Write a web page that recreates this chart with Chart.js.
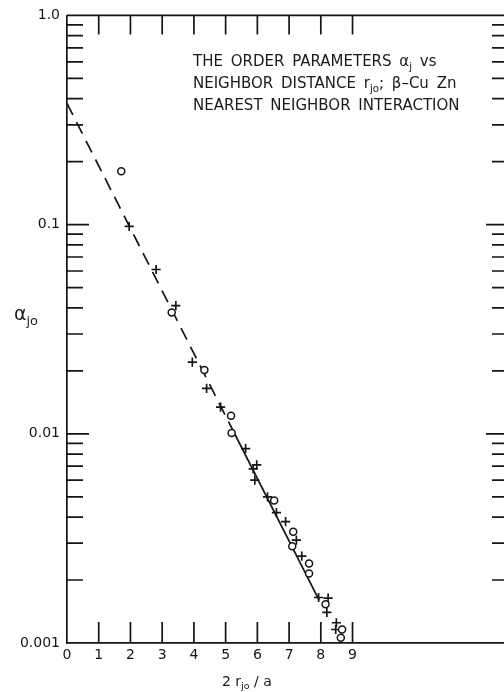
<!DOCTYPE html>
<html>
<head>
<meta charset="utf-8">
<script src="https://cdn.jsdelivr.net/npm/chart.js@4.4.0/dist/chart.umd.min.js"></script>
<style>
  html, body { margin: 0; padding: 0; background: #fff; overflow: hidden; }
  #wrap { position: relative; width: 504px; height: 692px; overflow: hidden; background: #fff; }
  #plot { position: absolute; left: 0; top: 0; }
  .lbl { position: absolute; font-family: 'DejaVu Sans', sans-serif; color: #1a1a1a; white-space: nowrap; }
  .lbl sub { font-size: 68%; vertical-align: baseline; position: relative; top: 0.35em; }
</style>
</head>
<body>
<div id="wrap">
  <canvas id="plot" width="540" height="692"></canvas>
  <div class="lbl" style="left:193px; top:51px; font-size:15px; line-height:20px; word-spacing:3px;">
    THE ORDER PARAMETERS α<sub>j</sub> vs<br>
    NEIGHBOR DISTANCE r<sub>jo</sub>; β–Cu Zn<br>
    NEAREST NEIGHBOR INTERACTION
  </div>
  <div class="lbl" style="left:14px; top:302px; font-size:19px;">α<sub>jo</sub></div>
  <div class="lbl" style="left:222px; top:673px; font-size:14px;">2 r<sub>jo</sub> / a</div>
</div>
<script>
// tick labels
var xTickValues = [0, 1, 2, 3, 4, 5, 6, 7, 8, 9];
var xTickLabels = ['0', '1', '2', '3', '4', '5', '6', '7', '8', '9'];
var yTickValues = [0.001, 0.01, 0.1, 1];
var yTickLabels = ['0.001', '0.01', '0.1', '1.0'];
var yMinorMantissas = [2, 3, 4, 5, 6, 7, 8, 9];

// measured points, crosses
var crossX = [1.96, 2.81, 3.43, 3.95, 4.40, 4.84, 5.63, 5.87, 5.98, 5.92, 6.32, 6.60, 6.89, 7.23, 7.40, 7.93, 8.23, 8.19, 8.49, 8.47];
var crossY = [0.098, 0.061, 0.041, 0.022, 0.0165, 0.0134, 0.0085, 0.0068, 0.0071, 0.0060, 0.0050, 0.0042, 0.0038, 0.0031, 0.0026, 0.00165, 0.00164, 0.0014, 0.00125, 0.00116];

// measured points, circles
var circleX = [1.71, 3.30, 4.33, 5.17, 5.19, 6.53, 7.13, 7.10, 7.63, 7.63, 8.15, 8.67, 8.63];
var circleY = [0.18, 0.038, 0.0202, 0.0122, 0.0101, 0.0048, 0.0034, 0.0029, 0.0024, 0.00215, 0.00153, 0.00116, 0.00106];

// fitted line: dashed upper part, solid lower part
var fitDashX = [0, 5.2];
var fitDashY = [0.38, 0.0106];
var fitSolidX = [5.2, 7.95];
var fitSolidY = [0.0106, 0.0016];

var ink = '#151515';
var fontFamily = "'DejaVu Sans', sans-serif";

function toPoints(xs, ys) {
    return xs.map(function (x, i) { return { x: x, y: ys[i] }; });
}

function isDecade(v) {
    var e = Math.log10(v);
    return Math.abs(e - Math.round(e)) < 1e-6;
}

// inward tick marks and the top/right frame
var innerTicks = {
    id: 'innerTicks',
    beforeDatasetsDraw: function (chart) {
        var ctx = chart.ctx, a = chart.chartArea, x = chart.scales.x, y = chart.scales.y;
        ctx.save();
        ctx.strokeStyle = ink;
        ctx.lineWidth = 1.7;
        ctx.beginPath();
        ctx.moveTo(a.left, a.top); ctx.lineTo(a.right, a.top);
        ctx.moveTo(a.right, a.top); ctx.lineTo(a.right, a.bottom);
        xTickValues.forEach(function (v) {
            if (v === 0) return;
            var px = x.getPixelForValue(v);
            ctx.moveTo(px, a.bottom); ctx.lineTo(px, a.bottom - 21);
            ctx.moveTo(px, a.top); ctx.lineTo(px, a.top + 19);
        });
        yTickValues.forEach(function (d) {
            if (d >= 1) return;
            var py = y.getPixelForValue(d);
            if (d > 0.001) {
                ctx.moveTo(a.left, py); ctx.lineTo(a.left + 22, py);
                ctx.moveTo(a.right, py); ctx.lineTo(a.right - 22, py);
            }
            yMinorMantissas.forEach(function (m) {
                var pm = y.getPixelForValue(m * d);
                ctx.moveTo(a.left, pm); ctx.lineTo(a.left + 16, pm);
                ctx.moveTo(a.right, pm); ctx.lineTo(a.right - 16, pm);
            });
        });
        ctx.stroke();
        ctx.restore();
    }
};

var ctx1 = document.getElementById('plot').getContext('2d');
var orderChart = new Chart(ctx1, {
    type: 'scatter',
    data: {
        datasets: [{
            label: 'fit dashed',
            type: 'line',
            data: toPoints(fitDashX, fitDashY),
            borderColor: ink,
            borderWidth: 1.7,
            borderDash: [13, 8],
            pointRadius: 0,
            showLine: true,
            fill: false,
            order: 5
        }, {
            label: 'fit solid',
            type: 'line',
            data: toPoints(fitSolidX, fitSolidY),
            borderColor: ink,
            borderWidth: 1.7,
            pointRadius: 0,
            showLine: true,
            fill: false,
            order: 5
        }, {
            label: 'crosses',
            data: toPoints(crossX, crossY),
            pointStyle: 'cross',
            pointRadius: 4.6,
            borderColor: ink,
            borderWidth: 1.7,
            order: 1
        }, {
            label: 'circles',
            data: toPoints(circleX, circleY),
            pointStyle: 'circle',
            pointRadius: 3.5,
            borderColor: ink,
            backgroundColor: '#fff',
            borderWidth: 1.5,
            order: 0
        }]
    },
    plugins: [innerTicks],
    options: {
        responsive: false,
        animation: false,
        events: [],
        layout: { padding: { top: 14, right: 32, left: 0, bottom: 0 } },
        plugins: {
            legend: { display: false },
            tooltip: { enabled: false }
        },
        scales: {
            x: {
                type: 'linear',
                min: 0,
                max: 13.9,
                afterFit: function (s) { s.height = 49; },
                afterBuildTicks: function (s) {
                    s.ticks = xTickValues.map(function (v) { return { value: v }; });
                },
                border: { display: true, color: ink, width: 1.7 },
                grid: { drawOnChartArea: false, drawTicks: false },
                ticks: {
                    autoSkip: false,
                    maxRotation: 0,
                    padding: 4,
                    color: ink,
                    font: { family: fontFamily, size: 14 },
                    callback: function (v) {
                        var i = xTickValues.indexOf(v);
                        return i >= 0 ? xTickLabels[i] : '';
                    }
                }
            },
            y: {
                type: 'logarithmic',
                min: 0.001,
                max: 1,
                afterFit: function (s) { s.width = 67; },
                afterBuildTicks: function (s) {
                    s.ticks = yTickValues.map(function (v) { return { value: v }; });
                },
                border: { display: true, color: ink, width: 1.7 },
                grid: { drawOnChartArea: false, drawTicks: false },
                ticks: {
                    autoSkip: false,
                    padding: 7,
                    color: ink,
                    font: { family: fontFamily, size: 14 },
                    callback: function (v) {
                        if (!isDecade(v)) return '';
                        var i = Math.round(Math.log10(v)) + 3;
                        return yTickLabels[i];
                    }
                }
            }
        }
    }
});
</script>
</body>
</html>
